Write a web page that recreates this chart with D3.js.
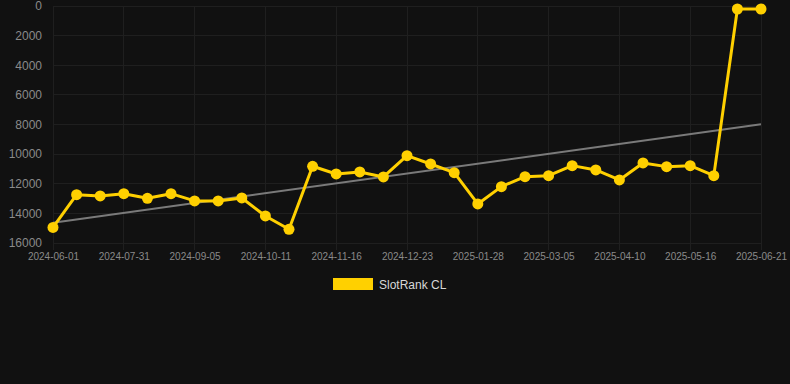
<!DOCTYPE html>
<html>
<head>
<meta charset="utf-8">
<script src="https://cdn.jsdelivr.net/npm/d3@7"></script>
<style>
  html, body { margin: 0; padding: 0; background: #111111; }
  svg { display: block; }
</style>
</head>
<body>
<svg id="chart" width="790" height="384"></svg>
<script>
const categories = [
  "2024-06-01","2024-06-21","2024-07-11","2024-07-31","2024-08-12","2024-08-24",
  "2024-09-05","2024-09-17","2024-09-29","2024-10-11","2024-10-23","2024-11-04",
  "2024-11-16","2024-11-28","2024-12-11","2024-12-23","2025-01-04","2025-01-16",
  "2025-01-28","2025-02-09","2025-02-21","2025-03-05","2025-03-17","2025-03-29",
  "2025-04-10","2025-04-22","2025-05-04","2025-05-16","2025-05-28","2025-06-09",
  "2025-06-21"
];
const rankValues = [
  14950, 12735, 12825, 12670, 12980, 12670,
  13160, 13160, 12960, 14175, 15075, 10822,
  11340, 11205, 11542, 10103, 10665, 11250,
  13365, 12195, 11520, 11452, 10778, 11070,
  11745, 10598, 10845, 10778, 11452, 202,
  202
];
const yTicks = [0, 2000, 4000, 6000, 8000, 10000, 12000, 14000, 16000];
const xTickLabels = ["2024-06-01","2024-07-31","2024-09-05","2024-10-11","2024-11-16",
  "2024-12-23","2025-01-28","2025-03-05","2025-04-10","2025-05-16","2025-06-21"];
const seriesName = "SlotRank CL";

(function () {
const svg = d3.select("#chart");
const mLeft = 53, mRight = 761, mTop = 6, mBottom = 243;

const x = d3.scalePoint().domain(categories).range([mLeft, mRight]);
const y = d3.scaleLinear().domain([0, 16000]).range([mTop, mBottom]);

const gridColor = "#1f1f1f";
const textColor = "#8a8a8a";

svg.append("g").selectAll("line").data(yTicks).join("line")
  .attr("x1", mLeft).attr("x2", mRight)
  .attr("y1", d => y(d)).attr("y2", d => y(d))
  .attr("stroke", gridColor).attr("stroke-width", 1).attr("shape-rendering", "crispEdges");

svg.append("g").selectAll("line").data(xTickLabels).join("line")
  .attr("x1", d => x(d)).attr("x2", d => x(d))
  .attr("y1", mTop).attr("y2", mBottom + 7)
  .attr("stroke", gridColor).attr("stroke-width", 1).attr("shape-rendering", "crispEdges");

const yAxis = d3.axisLeft(y).tickValues(yTicks).tickSize(0).tickPadding(11).tickFormat(d3.format("d"));
const gy = svg.append("g").attr("transform", `translate(${mLeft},0)`).call(yAxis);
gy.select(".domain").remove();
gy.selectAll("text").attr("fill", textColor).attr("font-size", 12)
  .attr("font-family", "Liberation Sans, Arial, sans-serif");

const xAxis = d3.axisBottom(x).tickValues(xTickLabels).tickSize(0).tickPadding(10);
const gx = svg.append("g").attr("transform", `translate(0,${mBottom})`).call(xAxis);
gx.select(".domain").remove();
gx.selectAll("text").attr("fill", textColor).attr("font-size", 10)
  .attr("font-family", "Liberation Sans, Arial, sans-serif");

const n = rankValues.length;
const idx = d3.range(n);
const mx = d3.mean(idx), my = d3.mean(rankValues);
const slope = d3.sum(idx, i => (i - mx) * (rankValues[i] - my)) / d3.sum(idx, i => (i - mx) ** 2);
const intercept = my - slope * mx;
const trend = [0, n - 1].map(i => ({ c: categories[i], v: intercept + slope * i }));
svg.append("path").datum(trend)
  .attr("d", d3.line().x(d => x(d.c)).y(d => y(d.v)))
  .attr("fill", "none").attr("stroke", "#7a7a7a").attr("stroke-width", 2);

const data = categories.map((c, i) => ({ c, v: rankValues[i] }));
const gold = "#FFD000";
svg.append("path").datum(data)
  .attr("d", d3.line().x(d => x(d.c)).y(d => y(d.v)))
  .attr("fill", "none").attr("stroke", gold).attr("stroke-width", 3)
  .attr("stroke-linejoin", "round");

svg.append("g").selectAll("circle").data(data).join("circle")
  .attr("cx", d => x(d.c)).attr("cy", d => y(d.v)).attr("r", 5.5)
  .attr("fill", gold);

const lg = svg.append("g");
lg.append("rect").attr("x", 333).attr("y", 278).attr("width", 40).attr("height", 12).attr("fill", gold);
lg.append("text").attr("x", 379).attr("y", 288.5).text(seriesName)
  .attr("fill", "#d8d8d8").attr("font-size", 12)
  .attr("font-family", "Liberation Sans, Arial, sans-serif");
})();
</script>
</body>
</html>
